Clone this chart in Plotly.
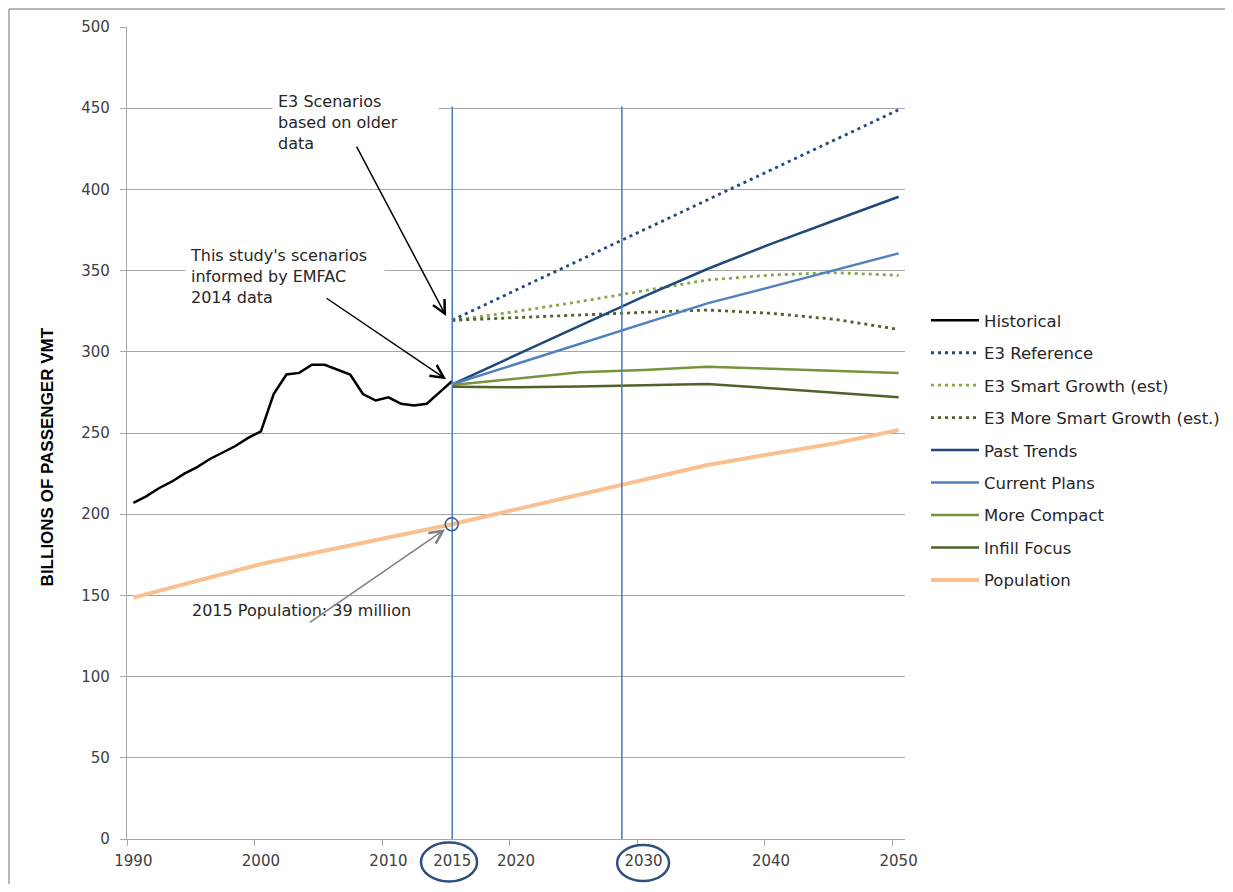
import plotly.graph_objects as go

# ---------------- data ----------------
hist_years = list(range(1990, 2016))
historical = [207, 211, 216, 220, 225, 229, 234, 238, 242, 247, 251,
              274, 286, 287, 292, 292, 289, 286, 274, 270, 272, 268,
              267, 268, 275, 282]

scen_years = [2015, 2020, 2025, 2030, 2035, 2040, 2045, 2050]
e3_reference = [319.5, 338, 356.5, 375, 393.5, 412, 430.5, 449]
e3_smart_growth = [319.2, 324.8, 330.9, 337.6, 344.2, 347.3, 348.7, 347.1]
e3_more_smart_growth = [319.4, 321.1, 322.8, 324.3, 325.7, 323.7, 320.0, 313.8]
past_trends = [280, 298, 316, 334, 351, 366.5, 381, 395.5]
current_plans = [280, 292.5, 305, 317.3, 329.8, 340, 350.4, 360.6]
more_compact = [279.6, 283.7, 287.4, 288.8, 290.8, 289.6, 288.2, 287.0]
infill_focus = [278.5, 278.1, 278.7, 279.3, 280.2, 277.5, 274.8, 272.0]

pop_years = [1990, 1995, 2000, 2005, 2010, 2015, 2020, 2025, 2030, 2035, 2040, 2045, 2050]
population = [148.6, 158.9, 169.3, 177.5, 185.6, 193.8, 203, 212, 221.5, 230.3, 237.1, 243.6, 251.8]

x_tick_vals = [1990, 2000, 2010, 2015, 2020, 2030, 2040, 2050]
x_tick_text = ["1990", "2000", "2010", "2015", "2020", "2030", "2040", "2050"]
y_tick_vals = [0, 50, 100, 150, 200, 250, 300, 350, 400, 450, 500]

# ---------------- style ----------------
FONT = "DejaVu Sans"
TXT = "#262626"
GRID = "#A6A6A6"
DOT = "3px,4px"

series = [
    ("Historical", hist_years, historical, "#000000", 2.5, "solid"),
    ("E3 Reference", scen_years, e3_reference, "#24487C", 2.8, DOT),
    ("E3 Smart Growth (est)", scen_years, e3_smart_growth, "#86A84A", 2.8, DOT),
    ("E3 More Smart Growth (est.)", scen_years, e3_more_smart_growth, "#4F6228", 2.8, DOT),
    ("Past Trends", scen_years, past_trends, "#1F497D", 2.5, "solid"),
    ("Current Plans", scen_years, current_plans, "#4F81BD", 2.5, "solid"),
    ("More Compact", scen_years, more_compact, "#77933C", 2.5, "solid"),
    ("Infill Focus", scen_years, infill_focus, "#4F6228", 2.5, "solid"),
    ("Population", pop_years, population, "#FAC090", 4, "solid"),
]

fig = go.Figure()
for i, (name, xs, ys, col, w, dash) in enumerate(series):
    fig.add_trace(go.Scatter(
        x=xs, y=ys, name=name, mode="lines",
        line=dict(color=col, width=w, dash=dash),
        legendgroup=f"g{i}",
    ))

# vertical marker lines
for xv in [2015, 2028.3]:
    fig.add_shape(type="line", xref="x", yref="y", x0=xv, x1=xv, y0=0, y1=451,
                  line=dict(color="#4F81BD", width=1.6), layer="above")

# circle around population point
fig.add_shape(type="circle", xref="x", yref="y", x0=2014.45, x1=2015.47, y0=189.8, y1=197.8,
              line=dict(color="#385D8A", width=1.5))

# ellipses around 2015 / 2030 tick labels
fig.add_shape(type="circle", xref="x", yref="paper", x0=2012.55, x1=2016.95, y0=-0.0523, y1=-0.0043,
              line=dict(color="#2F4F7F", width=2.5))
fig.add_shape(type="circle", xref="x", yref="paper", x0=2027.93, x1=2032.0, y0=-0.0517, y1=-0.0074,
              line=dict(color="#2F4F7F", width=2.5))

# outer border: top and left edges
fig.add_shape(type="line", xref="paper", yref="paper", x0=-0.1517, x1=1.6, y0=1.0222, y1=1.0222,
              line=dict(color="#A0A0A0", width=1.5))
fig.add_shape(type="line", xref="paper", yref="paper", x0=-0.1517, x1=-0.1517, y0=-0.1, y1=1.0222,
              line=dict(color="#A0A0A0", width=1.5))

# text boxes
fig.add_annotation(x=2000.87, y=463.7, xref="x", yref="y", xanchor="left", yanchor="top",
                   text="E3 Scenarios<br>based on older<br>data", showarrow=False, align="left",
                   bgcolor="white", width=155, borderpad=5,
                   font=dict(family=FONT, size=16, color=TXT))
fig.add_annotation(x=1994.05, y=368.5, xref="x", yref="y", xanchor="left", yanchor="top",
                   text="This study's scenarios<br>informed by EMFAC<br>2014 data", showarrow=False,
                   align="left", bgcolor="white", width=190, borderpad=4,
                   font=dict(family=FONT, size=16, color=TXT))
fig.add_annotation(x=1994.44, y=141, xref="x", yref="y", xanchor="left", yanchor="middle",
                   text="2015 Population: 39 million", showarrow=False, align="left",
                   font=dict(family=FONT, size=16, color=TXT))

# arrows
arrows = [
    (2014.52, 322.0, 2007.44, 427.3, "#000000"),
    (2014.52, 283.1, 2005.03, 333.6, "#000000"),
    (2014.44, 190.7, 2003.72, 132.8, "#7F7F7F"),
]
for hx, hy, tx, ty, col in arrows:
    fig.add_annotation(x=hx, y=hy, ax=tx, ay=ty, xref="x", yref="y", axref="x", ayref="y",
                       text="", showarrow=True, arrowhead=5, arrowsize=1.7, arrowwidth=1.5,
                       arrowcolor=col, standoff=0)

# y-axis title
fig.add_annotation(x=-0.1028, y=0.47, xref="paper", yref="paper", xanchor="center", yanchor="middle",
                   text="<b>BILLIONS OF PASSENGER VMT</b>", textangle=-90, showarrow=False,
                   font=dict(family="Liberation Sans Narrow, Arial Narrow, sans-serif", size=17, color="#000000"))

fig.update_layout(
    width=1217, height=876,
    margin=dict(l=119, r=320, t=19, b=45, autoexpand=False),
    paper_bgcolor="white", plot_bgcolor="white",
    font=dict(family=FONT, size=15, color=TXT),
    showlegend=True,
    legend=dict(x=1.027, y=0.66, xanchor="left", yanchor="top", traceorder="grouped",
                tracegroupgap=8, itemwidth=48, font=dict(family=FONT, size=16.5, color=TXT),
                bgcolor="rgba(0,0,0,0)"),
    xaxis=dict(range=[1989.5, 2050.5], tickvals=x_tick_vals, ticktext=x_tick_text,
               showgrid=False, ticks="", showline=True, linecolor=GRID, linewidth=1.2,
               tickfont=dict(family=FONT, size=15, color="#404040"), ticklabelstandoff=8,
               minor=dict(tick0=1989.5, dtick=10, ticks="outside", ticklen=6, tickcolor=GRID, showgrid=False),
               zeroline=False),
    yaxis=dict(range=[0, 500], tickvals=y_tick_vals, showgrid=True, gridcolor=GRID, gridwidth=1.2,
               ticks="outside", ticklen=6, tickcolor=GRID, showline=True, linecolor=GRID, linewidth=1.2,
               tickfont=dict(family=FONT, size=15, color="#404040"), ticklabelstandoff=7,
               zeroline=False),
)

fig.write_html("out.html")
